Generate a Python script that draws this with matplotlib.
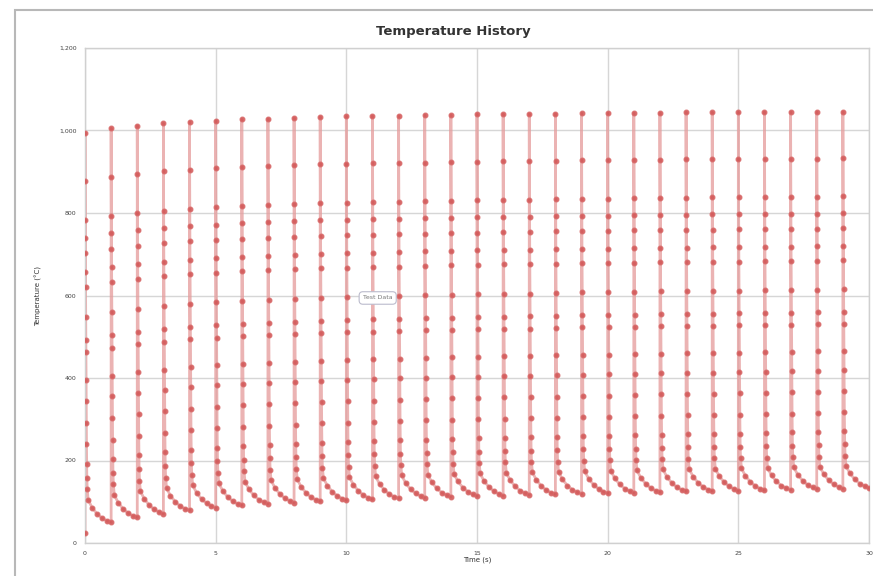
import numpy as np
import matplotlib
matplotlib.use("Agg")
import matplotlib.pyplot as plt
from matplotlib.patches import Rectangle
from matplotlib.ticker import FuncFormatter

plt.rcParams['font.family'] = 'sans-serif'

# Values
START_TEMP = 25
PULSE_TIMES = list(range(30))
PEAKS = [995, 1005, 1012, 1017, 1021, 1024, 1027, 1029, 1031, 1033,
         1034, 1035, 1036, 1037, 1038, 1039, 1040, 1040, 1041, 1042,
         1042, 1043, 1043, 1044, 1044, 1044, 1045, 1045, 1045, 1046]
MINS = [50, 62, 71, 79, 86, 91, 95, 98, 101, 104,
        106, 108, 110, 112, 114, 115, 117, 118, 119, 121,
        122, 123, 125, 126, 127, 128, 129, 131, 132, 134]

# cooling profile inside one cycle: time offset (s) and fraction of (peak - end min)
PROFILE_OFFSETS = [0.000, 0.004, 0.008, 0.011, 0.014, 0.017, 0.020, 0.025,
                   0.030, 0.034, 0.039, 0.044, 0.050, 0.056, 0.062, 0.070,
                   0.085, 0.12, 0.27, 0.46, 0.65, 0.84]
PROFILE_FRACS = [1.000, 0.876, 0.775, 0.730, 0.690, 0.643, 0.605, 0.528,
                 0.468, 0.436, 0.364, 0.312, 0.256, 0.200, 0.150, 0.115,
                 0.085, 0.058, 0.038, 0.022, 0.011, 0.004]

X_TICKS = [0, 5, 10, 15, 20, 25, 30]
Y_TICKS = [0, 200, 400, 600, 800, 1000, 1200]

# build the series
times = [0.0]
temps = [START_TEMP]
for k, pk, mn in zip(PULSE_TIMES, PEAKS, MINS):
    for off, fr in zip(PROFILE_OFFSETS, PROFILE_FRACS):
        times.append(k + off)
        temps.append(mn + fr * (pk - mn))
    times.append(k + 1)
    temps.append(mn)

fig = plt.figure(figsize=(8.73, 5.76), dpi=100)

# outer chart frame
fig.patches.append(Rectangle((15 / 873, -0.01), 1.0, 1 - 10 / 576 + 0.01,
                             transform=fig.transFigure, fill=False,
                             edgecolor='#b8b8b8', linewidth=1.5))

ax = fig.add_axes([85 / 873, 1 - 543 / 576, (869 - 85) / 873, (543 - 48) / 576])

ax.plot(times, temps, color='#e59a9a', linewidth=2.0, alpha=0.75, zorder=2)
ax.plot(times, temps, linestyle='none', marker='o', markersize=3.3,
        markerfacecolor='#d05050', markeredgecolor='#d86868', alpha=0.85, zorder=3)

ax.set_xlim(0, 30)
ax.set_ylim(0, 1200)
ax.set_xticks(X_TICKS)
ax.set_yticks(Y_TICKS)
ax.yaxis.set_major_formatter(FuncFormatter(lambda v, p: f"{int(v):,}"))
ax.tick_params(axis='both', length=0, labelsize=4.5, colors='#444444', pad=6)
ax.grid(True, color='#d6d6d6', linewidth=1.0)
ax.set_axisbelow(True)
for s in ax.spines.values():
    s.set_color('#d0d0d0')
    s.set_linewidth(1.0)

ax.set_xlabel('Time (s)', fontsize=5, color='#333333', labelpad=0)
ax.set_ylabel('Temperature (°C)', fontsize=5, color='#333333', labelpad=12)

fig.text(453 / 873, 1 - 32 / 576, 'Temperature History', ha='center', va='center',
         fontsize=9.5, fontweight='bold', color='#333333')

# small label box in the middle of the plot
ax.text(11.2, 594, 'Test Data', ha='center', va='center', fontsize=4.5, color='#777777',
        bbox=dict(boxstyle='round,pad=0.6', facecolor='white', edgecolor='#bbbbcc',
                  linewidth=0.8), zorder=5)

fig.savefig('out.png', dpi=100)
